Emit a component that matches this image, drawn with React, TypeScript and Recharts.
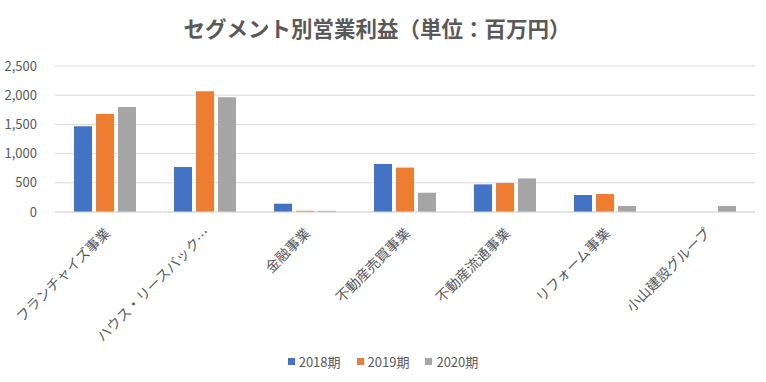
import { BarChart, Bar, XAxis, YAxis, CartesianGrid } from 'recharts'

const categories = [
  'フランチャイズ事業',
  'ハウス・リースバック…',
  '金融事業',
  '不動産売買事業',
  '不動産流通事業',
  'リフォーム事業',
  '小山建設グループ',
]
const fy2018 = [1467, 770, 142, 822, 473, 291, null]
const fy2019 = [1678, 2067, 20, 760, 497, 308, null]
const fy2020 = [1798, 1964, 20, 330, 575, 103, 103]
const yTicks = [0, 500, 1000, 1500, 2000, 2500]

const seriesNames = ['2018期', '2019期', '2020期']
const seriesColors = ['#4472C4', '#ED7D31', '#A5A5A5']

const data = categories.map((name, i) => ({
  name,
  a: fy2018[i],
  b: fy2019[i],
  c: fy2020[i],
}))

const font = '"Noto Sans CJK JP", "Noto Sans", sans-serif'

function CategoryTick({ x, y, payload }: any) {
  const ax = x - 3
  const ay = y + 5
  return (
    <text
      x={ax}
      y={ay}
      transform={`rotate(-45, ${ax}, ${ay})`}
      textAnchor="end"
      dominantBaseline="hanging"
      fontSize={14}
      fill="#595959"
      fontFamily={font}
    >
      {payload.value}
    </text>
  )
}

export default function App() {
  return (
    <div style={{ position: 'absolute', left: 0, top: 0, width: 766, height: 382, background: '#fff', fontFamily: font }}>
      <div
        style={{
          position: 'absolute',
          top: 12,
          left: -6,
          width: 766,
          textAlign: 'center',
          fontSize: 21.5,
          fontWeight: 'bold',
          color: '#595959',
        }}
      >
        セグメント別営業利益（単位：百万円）
      </div>
      <BarChart
        width={766}
        height={382}
        data={data}
        margin={{ top: 66, right: 11, bottom: 0, left: 0 }}
        barCategoryGap="19%"
        barGap={4}
      >
        <CartesianGrid vertical={false} stroke="#D9D9D9" />
        <XAxis
          dataKey="name"
          interval={0}
          tickLine={false}
          axisLine={{ stroke: '#D9D9D9' }}
          height={170}
          tick={<CategoryTick />}
        />
        <YAxis
          width={55}
          domain={[0, 2500]}
          ticks={yTicks}
          tickLine={false}
          axisLine={false}
          tickFormatter={(v: number) => v.toLocaleString('en-US')}
          tick={{ fontSize: 13, fill: '#595959', fontFamily: font }}
          tickMargin={12}
        />
        <Bar dataKey="a" name={seriesNames[0]} fill={seriesColors[0]} isAnimationActive={false} />
        <Bar dataKey="b" name={seriesNames[1]} fill={seriesColors[1]} isAnimationActive={false} />
        <Bar dataKey="c" name={seriesNames[2]} fill={seriesColors[2]} isAnimationActive={false} />
      </BarChart>
      <div
        style={{
          position: 'absolute',
          top: 352,
          left: 0,
          width: 766,
          display: 'flex',
          justifyContent: 'center',
          gap: 16,
          fontSize: 13,
          color: '#595959',
        }}
      >
        {seriesNames.map((n, i) => (
          <div key={n} style={{ display: 'flex', alignItems: 'center' }}>
            <span style={{ display: 'inline-block', width: 7, height: 7, background: seriesColors[i], marginRight: 4 }} />
            {n}
          </div>
        ))}
      </div>
    </div>
  )
}
